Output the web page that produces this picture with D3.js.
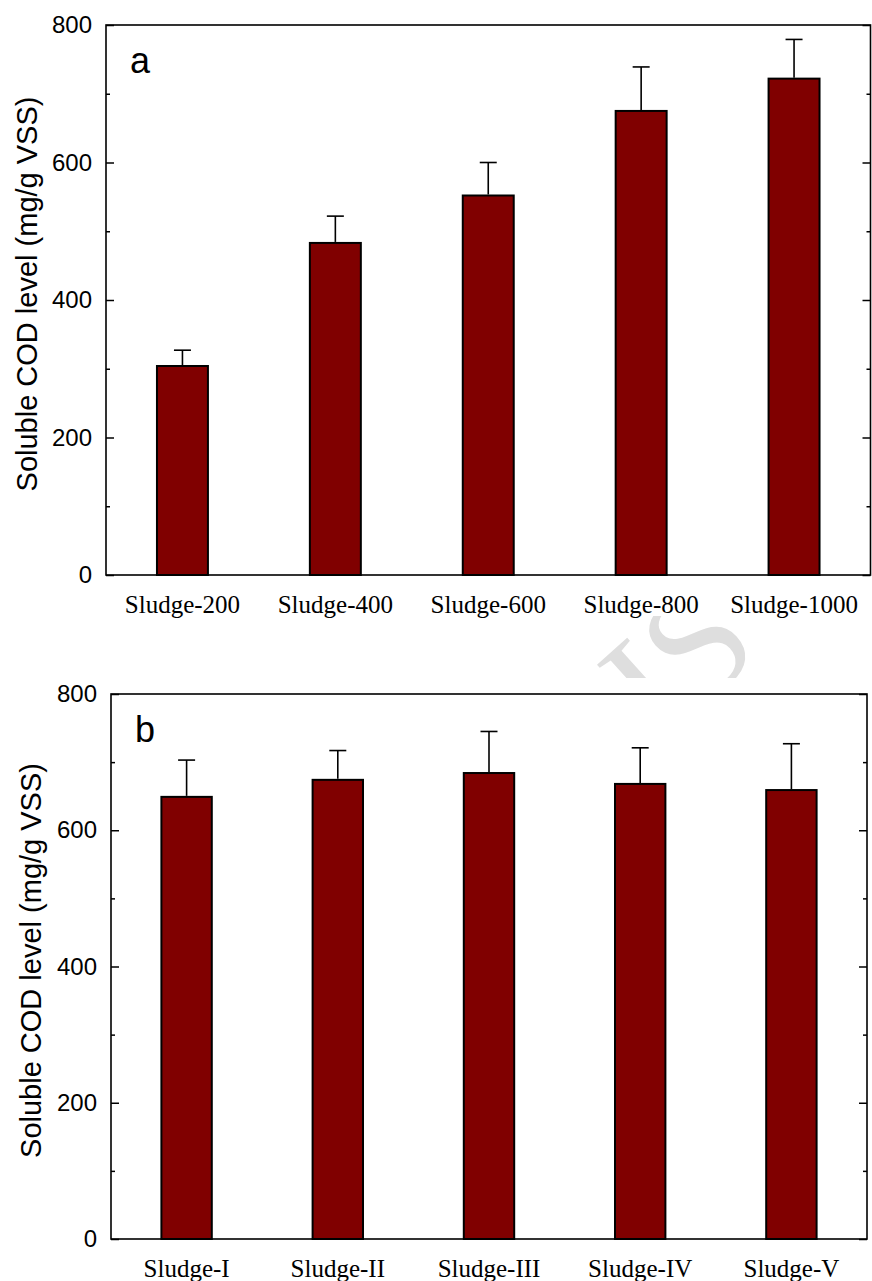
<!DOCTYPE html>
<html>
<head>
<meta charset="utf-8">
<script src="https://cdn.jsdelivr.net/npm/d3@7"></script>
<style>
  html, body { margin: 0; padding: 0; background: #fff; }
  svg { display: block; }
</style>
</head>
<body>
<svg id="chart" width="872" height="1281"></svg>
<script>
// Panel a: soluble COD by sludge dose
const catsA = ["Sludge-200", "Sludge-400", "Sludge-600", "Sludge-800", "Sludge-1000"];
const valsA = [304, 483, 552, 675, 722];
const errsA = [23, 39, 48, 64, 57];

// Panel b: soluble COD by sludge type
const catsB = ["Sludge-I", "Sludge-II", "Sludge-III", "Sludge-IV", "Sludge-V"];
const valsB = [649, 674, 684, 668, 659];
const errsB = [54, 43, 61, 53, 68];

const majorTicks = [0, 200, 400, 600, 800];
const minorTicks = [100, 300, 500, 700];
const yTitle = "Soluble COD level (mg/g VSS)";

const svg = d3.select("#chart");

// faint watermark fragment between the panels
const defs = svg.append("defs");
defs.append("clipPath").attr("id", "wm-clip")
  .append("rect").attr("x", 0).attr("y", 616).attr("width", 872).attr("height", 62);
svg.append("g").attr("clip-path", "url(#wm-clip)")
  .append("text")
  .attr("transform", "translate(712,698) rotate(-42)")
  .attr("text-anchor", "middle")
  .attr("font-family", "'Liberation Serif', 'Times New Roman', serif")
  .attr("font-size", 155)
  .attr("fill", "#dedede")
  .text("IS");

function drawPanel(opts) {
  const { cats, vals, errs, left, right, top, bottom, letter, titleX } = opts;
  const g = svg.append("g");

  const x = d3.scaleBand().domain(cats).range([left, right]).padding(0);
  const y = d3.scaleLinear().domain([0, 800]).range([bottom, top]);
  const barW = x.bandwidth() / 3;

  // bars
  g.selectAll("rect.bar").data(cats).enter().append("rect")
    .attr("class", "bar")
    .attr("x", d => x(d) + x.bandwidth() / 2 - barW / 2)
    .attr("y", (d, i) => y(vals[i]))
    .attr("width", barW)
    .attr("height", (d, i) => y(0) - y(vals[i]))
    .attr("fill", "#800000")
    .attr("stroke", "#000")
    .attr("stroke-width", 2);

  // upper error bars
  const eb = g.selectAll("g.err").data(cats).enter().append("g").attr("class", "err")
    .attr("stroke", "#000").attr("stroke-width", 1.6);
  eb.append("line")
    .attr("x1", d => x(d) + x.bandwidth() / 2)
    .attr("x2", d => x(d) + x.bandwidth() / 2)
    .attr("y1", (d, i) => y(vals[i]) - 1)
    .attr("y2", (d, i) => y(vals[i] + errs[i]));
  eb.append("line")
    .attr("x1", d => x(d) + x.bandwidth() / 2 - 8.5)
    .attr("x2", d => x(d) + x.bandwidth() / 2 + 8.5)
    .attr("y1", (d, i) => y(vals[i] + errs[i]))
    .attr("y2", (d, i) => y(vals[i] + errs[i]));

  // left axis: labelled major ticks, inward
  const axL = g.append("g").attr("transform", `translate(${left},0)`)
    .call(d3.axisLeft(y).tickValues(majorTicks).tickSize(-8).tickPadding(14)
      .tickFormat(d3.format("d")));
  axL.select(".domain").remove();
  axL.selectAll("line").attr("stroke", "#000").attr("stroke-width", 1.5);
  axL.selectAll("text")
    .attr("font-family", "Arial, 'Liberation Sans', sans-serif")
    .attr("font-size", 24).attr("fill", "#000");

  const axLm = g.append("g").attr("transform", `translate(${left},0)`)
    .call(d3.axisLeft(y).tickValues(minorTicks).tickSize(-4).tickFormat(""));
  axLm.select(".domain").remove();
  axLm.selectAll("line").attr("stroke", "#000").attr("stroke-width", 1.5);

  // right axis: inward ticks, no labels
  const axR = g.append("g").attr("transform", `translate(${right},0)`)
    .call(d3.axisRight(y).tickValues(majorTicks).tickSize(-8).tickFormat(""));
  axR.select(".domain").remove();
  axR.selectAll("line").attr("stroke", "#000").attr("stroke-width", 1.5);
  const axRm = g.append("g").attr("transform", `translate(${right},0)`)
    .call(d3.axisRight(y).tickValues(minorTicks).tickSize(-4).tickFormat(""));
  axRm.select(".domain").remove();
  axRm.selectAll("line").attr("stroke", "#000").attr("stroke-width", 1.5);

  // category labels
  const axB = g.append("g").attr("transform", `translate(0,${bottom})`)
    .call(d3.axisBottom(x).tickSize(0).tickPadding(20));
  axB.select(".domain").remove();
  axB.selectAll("text")
    .attr("font-family", "'Liberation Serif', 'Times New Roman', serif")
    .attr("font-size", 25).attr("fill", "#000");

  // frame
  g.append("rect")
    .attr("x", left).attr("y", top)
    .attr("width", right - left).attr("height", bottom - top)
    .attr("fill", "none").attr("stroke", "#000").attr("stroke-width", 1.6);

  // panel letter
  g.append("text")
    .attr("x", left + 24).attr("y", top + 48)
    .attr("font-family", "Arial, 'Liberation Sans', sans-serif")
    .attr("font-size", 36).attr("fill", "#000")
    .text(letter);

  // y title
  g.append("text")
    .attr("transform", `translate(${titleX},${(top + bottom) / 2 - 6}) rotate(-90)`)
    .attr("text-anchor", "middle")
    .attr("font-family", "Arial, 'Liberation Sans', sans-serif")
    .attr("font-size", 29).attr("fill", "#000")
    .text(yTitle);
}

drawPanel({ cats: catsA, vals: valsA, errs: errsA, left: 106, right: 870.5, top: 25, bottom: 575, letter: "a", titleX: 37 });
drawPanel({ cats: catsB, vals: valsB, errs: errsB, left: 111, right: 867, top: 694, bottom: 1239, letter: "b", titleX: 41 });
</script>
</body>
</html>
